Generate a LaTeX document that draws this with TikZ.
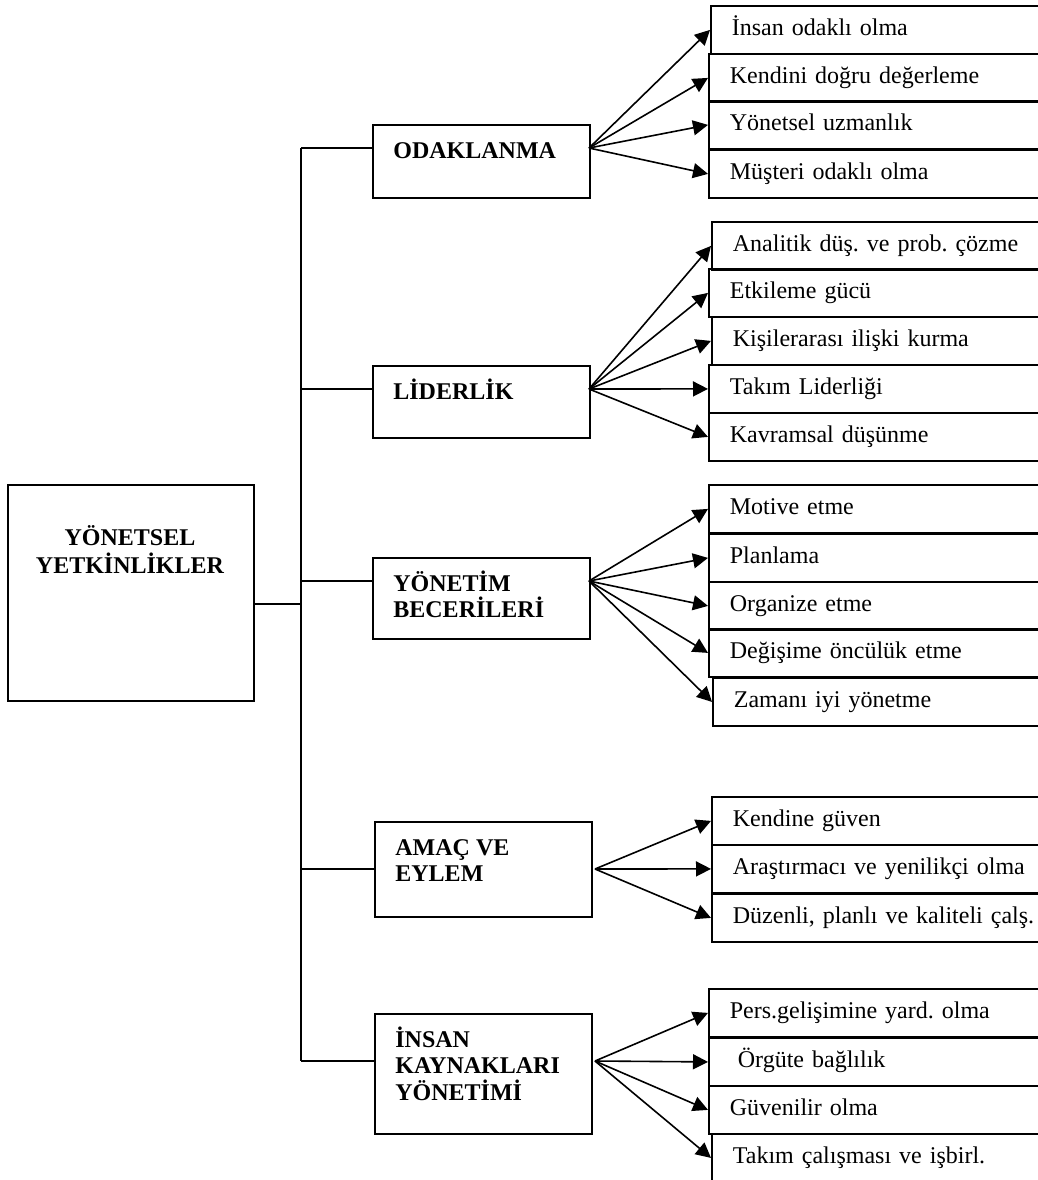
\documentclass[tikz,border=0pt]{standalone}
\usepackage{fontspec}
\setmainfont{Liberation Serif}
\frenchspacing
\usetikzlibrary{arrows.meta,positioning,calc}

\tikzset{
  box/.style={draw, line width=0.9pt, rectangle, inner sep=0pt, anchor=north west},
  kidbox/.style={box, minimum height=24pt, text width=200pt, inner xsep=10.5pt,
    text height=8.5pt, text depth=2.6pt, align=left},
  cattext/.style={font=\bfseries\fontsize{12}{13.4}\selectfont, align=left, anchor=base west, inner sep=0pt},
  link/.style={line width=0.8pt},
  fan/.style={line width=0.8pt, -{Triangle[length=7.5pt,width=7.5pt]}}
}

\begin{document}
\begin{tikzpicture}[x=0.5pt,y=-0.5pt,font=\fontsize{12}{14}\selectfont]
\useasboundingbox (0,0) rectangle (1038,1180);
\clip (0,0) rectangle (1038,1180);

\node[box, minimum width=123pt, minimum height=108pt] (root) at (7,484) {};
\node[font=\bfseries\fontsize{12}{14}\selectfont, align=center, anchor=base, inner sep=0pt] (roottext) at (130,573) {YÖNETSEL\\YETKİNLİKLER};

% \k = number of text lines (base anchor sits on the last one)
\foreach \n/\x/\t/\h/\y/\o/\k/\l in {odak/372/124/73/148/589/1/ODAKLANMA, lider/372/365/72/389/589/1/LİDERLİK,
    yonetim/372/557/81/581/589/2/{YÖNETİM\\BECERİLERİ}, amac/374/821/95/869/595/2/{AMAÇ VE\\EYLEM},
    insan/374/1013/120/1061/595/3/{İNSAN\\KAYNAKLARI\\YÖNETİMİ}} {
  \node[box, minimum width=108.5pt, minimum height=\h*0.5pt] (\n) at (\x,\t) {};
  \node[cattext] (\n-t) at ($(\n.north west)+(21,{34+(\k-1)*26.8})$) {\l};
  \coordinate (\n-in) at (\x,\y);
  \coordinate (\n-out) at (\o,\y);
}

\coordinate (hub) at (301,604);
\draw[link] (root.east |- hub) -- (hub);
\draw[link] (hub |- odak-in) -- (hub |- insan-in);
\foreach \n in {odak,lider,yonetim,amac,insan}
  \draw[link] (hub |- \n-in) -- (\n-in);

\foreach \i/\x/\t/\l in {1/710/5/İnsan odaklı olma, 2/708/53/Kendini doğru değerleme,
    3/708/100/Yönetsel uzmanlık, 4/708/149/Müşteri odaklı olma} {
  \node[kidbox] (odak-\i) at (\x,\t) {\l};
  \draw[fan] (odak-out) -- (odak-\i.west);
}

\foreach \i/\x/\t/\l in {1/711/221/Analitik düş. ve prob. çözme, 2/708/268/Etkileme gücü,
    3/711/316/Kişilerarası ilişki kurma, 4/708/364/Takım Liderliği, 5/708/412/Kavramsal düşünme} {
  \node[kidbox] (lider-\i) at (\x,\t) {\l};
  \draw[fan] (lider-out) -- (lider-\i.west);
}

\foreach \i/\x/\t/\l in {1/708/484/Motive etme, 2/708/533/Planlama, 3/708/581/Organize etme,
    4/708/628/Değişime öncülük etme, 5/712/677/Zamanı iyi yönetme} {
  \node[kidbox] (yonetim-\i) at (\x,\t) {\l};
  \draw[fan] (yonetim-out) -- (yonetim-\i.west);
}

\foreach \i/\x/\t/\l in {1/711/796/Kendine güven, 2/711/844/Araştırmacı ve yenilikçi olma,
    3/711/893/{Düzenli, planlı ve kaliteli çalş.}} {
  \node[kidbox] (amac-\i) at (\x,\t) {\l};
  \draw[fan] (amac-out) -- (amac-\i.west);
}

\foreach \i/\x/\t/\l in {1/708/988/Pers.gelişimine yard. olma, 2/708/1037/{\ Örgüte bağlılık},
    3/708/1085/Güvenilir olma, 4/711/1133/Takım çalışması ve işbirl.} {
  \node[kidbox] (insan-\i) at (\x,\t) {\l};
  \draw[fan] (insan-out) -- (insan-\i.west);
}
\end{tikzpicture}
\end{document}
